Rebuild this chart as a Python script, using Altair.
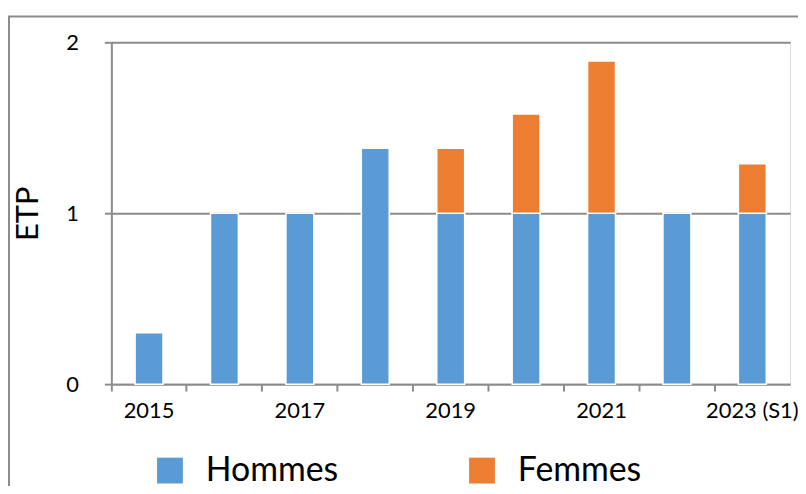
import altair as alt
import pandas as pd

years = ["2015", "2016", "2017", "2018", "2019", "2020", "2021", "2022", "2023 (S1)"]
hommes = [0.3, 1, 1, 1.38, 1, 1, 1, 1, 1]
femmes = [0, 0, 0, 0, 0.38, 0.58, 0.89, 0, 0.29]
series = ["Hommes", "Femmes"]
colors = ["#5B9BD5", "#ED7D31"]
shown_labels = ["2015", "2017", "2019", "2021", "2023 (S1)"]
y_ticks = [0, 1, 2]

rows = []
for y, h, f in zip(years, hommes, femmes):
    rows.append({"annee": y, "serie": "Hommes", "ordre": 0, "etp": h})
    if f > 0:
        rows.append({"annee": y, "serie": "Femmes", "ordre": 1, "etp": f})
df = pd.DataFrame(rows)

FONT = "Lato"
GREY = "#8c8c8c"
W, H = 683, 344

label_list = "[" + ",".join("'" + s + "'" for s in shown_labels) + "]"

bars = alt.Chart(df).mark_bar(
    width=alt.RelativeBandSize(0.37), stroke="white", strokeWidth=1.5
).encode(
    x=alt.X(
        "annee:N",
        sort=years,
        scale=alt.Scale(paddingInner=0, paddingOuter=0),
        axis=alt.Axis(
            title=None,
            bandPosition=0,
            labelAngle=0,
            labelFont=FONT,
            labelFontSize=22,
            labelColor="#000000",
            labelPadding=10,
            labelLimit=200,
            labelExpr="indexof(" + label_list + ", datum.value) >= 0 ? datum.label : ''",
            domainColor=GREY,
            domainWidth=2,
            tickColor=GREY,
            tickWidth=2,
            tickSize=7,
            grid=False,
        ),
    ),
    y=alt.Y(
        "etp:Q",
        stack="zero",
        scale=alt.Scale(domain=[0, 2], nice=False),
        axis=alt.Axis(
            title="ETP",
            titleFont=FONT,
            titleFontSize=31,
            titleFontWeight="normal",
            titleColor="#000000",
            titlePadding=22,
            values=y_ticks,
            format=".0f",
            labelOverlap=False,
            labelFont=FONT,
            labelFontSize=22,
            labelColor="#000000",
            labelPadding=26,
            domainColor=GREY,
            domainWidth=2,
            tickColor=GREY,
            tickWidth=2,
            tickSize=7,
            grid=True,
            gridColor=GREY,
            gridWidth=2,
        ),
    ),
    color=alt.Color(
        "serie:N",
        sort=series,
        scale=alt.Scale(domain=series, range=colors),
        legend=alt.Legend(
            title=None,
            orient="none",
            direction="horizontal",
            legendX=42,
            legendY=414,
            symbolType="square",
            symbolSize=676,
            symbolStrokeWidth=0,
            symbolOpacity=1,
            labelFont=FONT,
            labelFontSize=34,
            labelColor="#000000",
            labelOffset=19,
            labelLimit=300,
            columnPadding=127,
            padding=0,
        ),
    ),
    order=alt.Order("ordre:Q"),
)

frame = alt.Chart(pd.DataFrame({"a": [0]})).mark_rect(
    fill="transparent", stroke=GREY, strokeWidth=2, clip=False
).encode(
    x=alt.value(-103),
    x2=alt.value(760),
    y=alt.value(-26),
    y2=alt.value(520),
)

chart = alt.layer(bars, frame).properties(
    width=W,
    height=H,
    autosize=alt.AutoSizeParams(type="none"),
    padding={"left": 104, "top": 33, "right": 8, "bottom": 101},
).configure_view(stroke=None).configure(background="white")

chart.save("out.html", embed_options={"renderer": "svg", "actions": False})
